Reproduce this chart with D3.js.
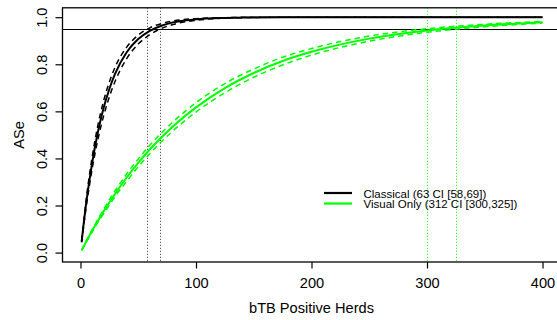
<!DOCTYPE html>
<html>
<head>
<meta charset="utf-8">
<script src="https://cdn.jsdelivr.net/npm/d3@7"></script>
<style>
  body { margin: 0; background: #fff; }
  svg { display: block; font-family: "Liberation Sans", Arial, Helvetica, sans-serif; }
  .axis text { font-size: 14.6px; fill: #000; }
  .axis line { stroke: #000; }
</style>
</head>
<body>
<div id="chart"></div>
<script>
// Number of bTB positive herds
var herds = [1, 5, 10, 15, 20, 25, 30, 40, 50, 60, 70, 80, 100, 125, 150, 175, 200, 250, 300, 350, 400];

// Classical surveillance ASe (central, upper and lower bound)
var classical      = [0.046, 0.212, 0.378, 0.510, 0.614, 0.695, 0.760, 0.851, 0.907, 0.942, 0.964, 0.978, 0.991, 0.997, 0.999, 1.000, 1.000, 1.000, 1.000, 1.000, 1.000];
var classicalUpper = [0.050, 0.228, 0.403, 0.539, 0.644, 0.725, 0.788, 0.873, 0.924, 0.955, 0.973, 0.984, 0.994, 0.998, 1.000, 1.000, 1.000, 1.000, 1.000, 1.000, 1.000];
var classicalLower = [0.043, 0.195, 0.352, 0.479, 0.580, 0.662, 0.728, 0.824, 0.886, 0.926, 0.952, 0.969, 0.987, 0.996, 0.999, 1.000, 1.000, 1.000, 1.000, 1.000, 1.000];

// Visual only ASe (central, upper and lower bound)
var visual      = [0.010, 0.047, 0.092, 0.134, 0.175, 0.213, 0.250, 0.319, 0.381, 0.438, 0.489, 0.536, 0.617, 0.699, 0.763, 0.814, 0.853, 0.909, 0.944, 0.965, 0.979];
var visualUpper = [0.010, 0.050, 0.097, 0.141, 0.184, 0.225, 0.263, 0.334, 0.398, 0.456, 0.508, 0.555, 0.637, 0.718, 0.780, 0.830, 0.867, 0.920, 0.951, 0.970, 0.982];
var visualLower = [0.009, 0.044, 0.086, 0.127, 0.165, 0.202, 0.238, 0.303, 0.364, 0.420, 0.471, 0.517, 0.597, 0.679, 0.745, 0.797, 0.839, 0.898, 0.936, 0.959, 0.975];

// Reference lines
var targetASe = 0.95;
var classicalCut = [58, 69];
var visualCut = [300, 325];

// Ticks and labels
var xTicks = [0, 100, 200, 300, 400];
var yTicks = [0, 0.2, 0.4, 0.6, 0.8, 1.0];
var legendLabels = ["Classical (63 CI [58,69])", "Visual Only (312 CI [300,325])"];
var legendColours = ["#000000", "#00ff00"];

var width = 557, height = 320;
var plot = { left: 62, right: 561, top: 7.8, bottom: 262 };

var svg = d3.select('#chart').append('svg')
	.attr('width', width)
	.attr('height', height);

// R style 4% axis expansion
var x = d3.scaleLinear().domain([-16, 416]).range([plot.left, plot.right]);
var y = d3.scaleLinear().domain([-0.04, 1.04]).range([plot.bottom, plot.top]);

svg.append('clipPath').attr('id', 'plotClip')
	.append('rect')
	.attr('x', plot.left).attr('y', plot.top)
	.attr('width', plot.right - plot.left).attr('height', plot.bottom - plot.top);

var g = svg.append('g').attr('clip-path', 'url(#plotClip)');

// Vertical dotted cut-offs
classicalCut.forEach(function(v) {
	g.append('line')
		.attr('x1', Math.round(x(v)) + 0.5).attr('x2', Math.round(x(v)) + 0.5)
		.attr('y1', plot.top).attr('y2', plot.bottom)
		.attr('stroke', '#333').attr('stroke-width', 1)
		.attr('stroke-dasharray', '1,2');
});
visualCut.forEach(function(v) {
	g.append('line')
		.attr('x1', Math.round(x(v)) + 0.5).attr('x2', Math.round(x(v)) + 0.5)
		.attr('y1', plot.top).attr('y2', plot.bottom)
		.attr('stroke', '#00ff00').attr('stroke-width', 1)
		.attr('stroke-dasharray', '1,2');
});

// Horizontal 95% line
g.append('line')
	.attr('x1', plot.left).attr('x2', plot.right)
	.attr('y1', Math.round(y(targetASe)) + 0.5).attr('y2', Math.round(y(targetASe)) + 0.5)
	.attr('stroke', '#000').attr('stroke-width', 1.2);

var line = d3.line()
	.x(function(d) { return x(d[0]); })
	.y(function(d) { return y(d[1]); })
	.curve(d3.curveMonotoneX);

function drawSeries(values, colour, dashed) {
	g.append('path')
		.datum(d3.zip(herds, values))
		.attr('d', line)
		.attr('fill', 'none')
		.attr('stroke', colour)
		.attr('stroke-width', dashed ? 1.5 : 2.0)
		.attr('stroke-dasharray', dashed ? '5.5,4' : null);
}

drawSeries(classicalUpper, '#000', true);
drawSeries(classicalLower, '#000', true);
drawSeries(classical, '#000', false);
drawSeries(visualUpper, '#00ff00', true);
drawSeries(visualLower, '#00ff00', true);
drawSeries(visual, '#00ff00', false);

// Box
svg.append('rect')
	.attr('x', plot.left + 0.5).attr('y', plot.top)
	.attr('width', plot.right - plot.left).attr('height', plot.bottom - plot.top)
	.attr('fill', 'none').attr('stroke', '#000').attr('stroke-width', 1.3);

// X axis
var xAxis = svg.append('g')
	.attr('class', 'axis')
	.attr('transform', 'translate(0,' + plot.bottom + ')')
	.call(d3.axisBottom(x).tickValues(xTicks).tickSize(6.5).tickPadding(9).tickFormat(d3.format('d')));
xAxis.select('.domain').remove();
xAxis.selectAll('line').attr('stroke-width', 1.2);
xAxis.selectAll('text').attr('font-family', null);

// Y axis with rotated labels
var yAxis = svg.append('g')
	.attr('class', 'axis')
	.attr('transform', 'translate(' + plot.left + ',0)')
	.call(d3.axisLeft(y).tickValues(yTicks).tickSize(6.5).tickFormat(d3.format('.1f')));
yAxis.select('.domain').remove();
yAxis.selectAll('line').attr('stroke-width', 1.2);
yAxis.selectAll('text')
	.attr('x', null).attr('dy', null)
	.attr('text-anchor', 'middle')
	.attr('transform', 'translate(' + (47 - plot.left) + ',0) rotate(-90)');

// Axis titles
svg.append('text')
	.attr('x', x(200)).attr('y', 313)
	.attr('text-anchor', 'middle')
	.attr('font-size', '14.6px')
	.text('bTB Positive Herds');

svg.append('text')
	.attr('transform', 'translate(24,' + y(0.5) + ') rotate(-90)')
	.attr('text-anchor', 'middle')
	.attr('font-size', '14.6px')
	.text('ASe');

// Legend (rows sit tight together, as in the original)
var legend = svg.append('g').attr('transform', 'translate(324,193)');
legendLabels.forEach(function(label, i) {
	legend.append('line')
		.attr('x1', 0).attr('x2', 28)
		.attr('y1', i * 10.5).attr('y2', i * 10.5)
		.attr('stroke', legendColours[i]).attr('stroke-width', 2.2);
	legend.append('text')
		.attr('x', 39.5).attr('y', i * 10.5 + 4.5)
		.attr('font-size', '11.5px')
		.text(label);
});
</script>
</body>
</html>
